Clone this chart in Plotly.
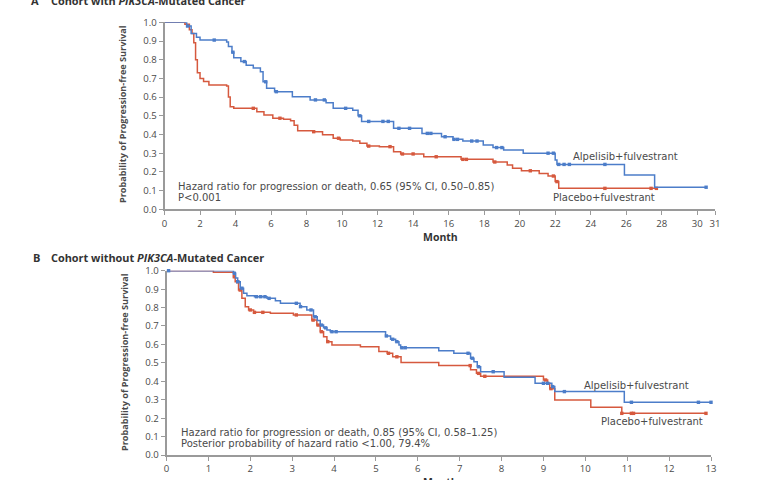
import numpy as np
import plotly.graph_objects as go

W, H = 760, 480

# ---------------- Panel A data (cohort with PIK3CA mutation) ----------------
a_alp_t = [0, 1.25, 1.5, 1.8, 2.0, 3.5, 3.6, 3.8, 3.9, 4.3, 4.6, 5.0, 5.4, 5.55, 5.75, 6.2, 7.2,
           8.2, 9.1, 9.5, 10.6, 10.9, 11.1, 12.9, 14.5, 15.6, 16.25, 16.8, 17.95, 18.5, 19.1,
           20.2, 22.0, 22.1, 25.9, 27.6, 30.5]
a_alp_s = [1.0, 0.98, 0.94, 0.92, 0.905, 0.895, 0.87, 0.84, 0.81, 0.79, 0.77, 0.755, 0.736, 0.682,
           0.647, 0.629, 0.602, 0.585, 0.57, 0.54, 0.53, 0.50, 0.47, 0.433, 0.406, 0.388, 0.374,
           0.365, 0.344, 0.33, 0.317, 0.30, 0.264, 0.24, 0.183, 0.118, 0.118]
a_plc_t = [0, 1.15, 1.4, 1.55, 1.65, 1.75, 1.85, 2.0, 2.2, 2.5, 3.5, 3.6, 3.7, 3.9, 5.2, 5.6,
           6.1, 6.7, 7.1, 7.3, 7.5, 8.4, 8.9, 9.5, 9.9, 10.6, 11.0, 11.4, 12.1, 12.9, 13.3,
           14.6, 16.7, 18.5, 19.3, 19.6, 20.1, 21.1, 21.6, 22.0, 22.2, 27.7]
a_plc_s = [1.0, 0.99, 0.96, 0.94, 0.89, 0.80, 0.73, 0.70, 0.683, 0.665, 0.66, 0.60, 0.549, 0.54,
           0.522, 0.504, 0.487, 0.481, 0.474, 0.45, 0.42, 0.415, 0.398, 0.38, 0.37, 0.365, 0.353,
           0.338, 0.335, 0.308, 0.296, 0.281, 0.267, 0.253, 0.237, 0.219, 0.206, 0.192, 0.178,
           0.148, 0.112, 0.112]
a_alp_cens = [1.3, 2.8, 3.85, 4.5, 5.7, 6.3, 8.5, 9.0, 10.2, 11.0, 11.5, 12.3, 12.6, 13.2, 13.8,
              14.8, 15.0, 15.8, 16.3, 16.5, 17.3, 17.6, 18.7, 19.0, 21.6, 21.9, 22.2, 22.5,
              22.8, 24.8, 30.5]
a_plc_cens = [5.0, 6.5, 8.4, 9.8, 11.5, 12.7, 13.4, 14.0, 15.3, 16.8, 17.0, 18.6, 20.6, 21.9,
              22.1, 24.8, 27.4, 27.7]

# ---------------- Panel B data (cohort without PIK3CA mutation) ----------------
b_alp_t = [0, 1.6, 1.65, 1.7, 1.76, 1.84, 1.92, 2.1, 2.4, 2.6, 2.72, 3.19, 3.35, 3.51, 3.6, 3.67,
           3.75, 3.83, 3.91, 5.23, 5.35, 5.47, 5.55, 5.59, 6.5, 6.86, 7.26, 7.34, 7.42, 7.5,
           8.06, 8.8, 9.2, 9.27, 10.93, 13.04]
b_alp_s = [1.0, 0.986, 0.96, 0.94, 0.905, 0.877, 0.864, 0.859, 0.85, 0.837, 0.823, 0.805, 0.787,
           0.75, 0.73, 0.705, 0.69, 0.678, 0.669, 0.646, 0.628, 0.615, 0.597, 0.582, 0.566, 0.552,
           0.525, 0.506, 0.479, 0.452, 0.422, 0.389, 0.371, 0.344, 0.286, 0.286]
b_plc_t = [0, 1.12, 1.6, 1.64, 1.72, 1.8, 1.88, 1.96, 2.08, 2.48, 3.03, 3.47, 3.59, 3.67, 3.75,
           3.83, 3.95, 4.63, 5.07, 5.27, 5.4, 5.6, 6.5, 7.26, 7.4, 7.5, 9.0, 9.1, 9.15, 9.27,
           10.13, 10.87, 12.88]
b_plc_s = [1.0, 0.991, 0.967, 0.94, 0.895, 0.85, 0.805, 0.787, 0.774, 0.769, 0.76, 0.732, 0.705,
           0.669, 0.642, 0.615, 0.597, 0.588, 0.561, 0.552, 0.533, 0.502, 0.485, 0.462, 0.443,
           0.427, 0.407, 0.389, 0.36, 0.298, 0.259, 0.226, 0.226]
b_alp_cens = [0.05, 1.62, 1.7, 1.8, 2.15, 2.25, 2.35, 2.45, 3.1, 3.2, 3.45, 3.55, 3.7, 3.8, 3.95,
              4.05, 5.25, 5.4, 5.5, 5.62, 5.7, 7.2, 7.3, 7.45, 7.8, 9.0, 9.1, 9.22, 9.5, 11.1,
              12.7, 13.0]
b_plc_cens = [1.62, 1.7, 1.76, 2.0, 2.1, 2.3, 3.1, 3.5, 3.62, 3.7, 3.85, 5.3, 5.5, 7.25, 7.45,
              7.6, 9.05, 9.18, 10.87, 11.1, 11.15, 12.88]

a_xticks = [0, 2, 4, 6, 8, 10, 12, 14, 16, 18, 20, 22, 24, 26, 28, 30, 31]
b_xticks = list(range(0, 14))
y_ticks = [round(0.1 * i, 1) for i in range(11)]

BLUE = "#4C7DC9"
RED = "#D6593E"
AX = "#9a9a9a"
TXT = "#4a4a4a"
FONT = "Open Sans"
FONT2 = "DejaVu Sans"


def step_y(t, s, c):
    t = np.asarray(t)
    s = np.asarray(s)
    idx = np.searchsorted(t, np.asarray(c), side="right") - 1
    idx = np.clip(idx, 0, len(s) - 1)
    return s[idx]


fig = go.Figure()


def add_panel(xa, ya, t1, s1, c1, t2, s2, c2):
    for t, s, c, col in [(t2, s2, c2, RED), (t1, s1, c1, BLUE)]:
        fig.add_trace(go.Scatter(x=t, y=s, mode="lines", line=dict(color=col, width=1.5, shape="hv"),
                                 xaxis=xa, yaxis=ya, showlegend=False, cliponaxis=False,
                                 hoverinfo="skip"))
        fig.add_trace(go.Scatter(x=c, y=step_y(t, s, c), mode="markers",
                                 marker=dict(symbol="square", size=3.4, color=col),
                                 xaxis=xa, yaxis=ya, showlegend=False, cliponaxis=False,
                                 hoverinfo="skip"))


add_panel("x", "y", a_alp_t, a_alp_s, a_alp_cens, a_plc_t, a_plc_s, a_plc_cens)
add_panel("x2", "y2", b_alp_t, b_alp_s, b_alp_cens, b_plc_t, b_plc_s, b_plc_cens)


def px(x):
    return x / W


def py(y):
    return 1 - y / H


axis_common = dict(showline=True, linecolor=AX, linewidth=1.5, ticks="outside", ticklen=4,
                   tickwidth=1.2, tickcolor=AX, showgrid=False, zeroline=False, automargin=False,
                   tickfont=dict(family=FONT, size=9.6, color=TXT), fixedrange=True)

fig.update_layout(
    width=W, height=H,
    margin=dict(l=0, r=0, t=0, b=0, pad=0, autoexpand=False),
    paper_bgcolor="white", plot_bgcolor="white",
    xaxis=dict(domain=[px(164.5), px(715.0)], range=[0, 31], tickvals=a_xticks,
               anchor="y", **axis_common),
    yaxis=dict(domain=[py(209.3), py(22.3)], range=[0, 1], tickvals=y_ticks, tickformat=".1f",
               anchor="x", **axis_common),
    xaxis2=dict(domain=[px(166.5), px(711.0)], range=[0, 13], tickvals=b_xticks,
                anchor="y2", **axis_common),
    yaxis2=dict(domain=[py(455.0), py(270.7)], range=[0, 1], tickvals=y_ticks, tickformat=".1f",
                anchor="x2", **axis_common),
)

ann = []


def text(x, y, s, size=9.5, color=TXT, xanchor="left", angle=0, family=FONT):
    ann.append(dict(x=px(x), y=py(y), xref="paper", yref="paper", text=s, showarrow=False,
                    xanchor=xanchor, yanchor="middle", textangle=angle,
                    font=dict(family=family, size=size, color=color)))


# panel titles
text(35, 1, "<b>A</b>", size=11, color="#333", xanchor="center")
text(49, 1, "<b>Cohort with <i>PIK3CA</i>-Mutated Cancer</b>", size=10.9, color="#333")
text(36, 257, "<b>B</b>", size=11, color="#333", xanchor="center")
text(49, 257, "<b>Cohort without <i>PIK3CA</i>-Mutated Cancer</b>", size=10.9, color="#333")

# axis titles
text(122, 114, "<b>Probability of Progression-free Survival</b>", size=9.1, color=TXT,
     xanchor="center", angle=-90)
text(124, 362, "<b>Probability of Progression-free Survival</b>", size=9.1, color=TXT,
     xanchor="center", angle=-90)
text(440, 237, "<b>Month</b>", size=10.5, color="#333", xanchor="center")
text(440, 482, "<b>Month</b>", size=10.5, color="#333", xanchor="center")

# statistics
text(176, 186.7, "Hazard ratio for progression or death, 0.65 (95% CI, 0.50–0.85)", size=10,
     family=FONT2)
text(176, 197.3, "P<0.001", size=10, family=FONT2)
text(179, 432.7, "Hazard ratio for progression or death, 0.85 (95% CI, 0.58–1.25)", size=10,
     family=FONT2)
text(179, 443.3, "Posterior probability of hazard ratio <1.00, 79.4%", size=10, family=FONT2)

# curve labels
text(571, 156.7, "Alpelisib+fulvestrant", size=10, family=FONT2)
text(551, 197.3, "Placebo+fulvestrant", size=10, family=FONT2)
text(582, 385, "Alpelisib+fulvestrant", size=10, family=FONT2)
text(599, 421, "Placebo+fulvestrant", size=10, family=FONT2)

fig.update_layout(annotations=ann)

fig.write_html("out.html", config={"displayModeBar": False},
               post_script="document.body.style.margin='0';document.body.style.overflow='hidden';")
